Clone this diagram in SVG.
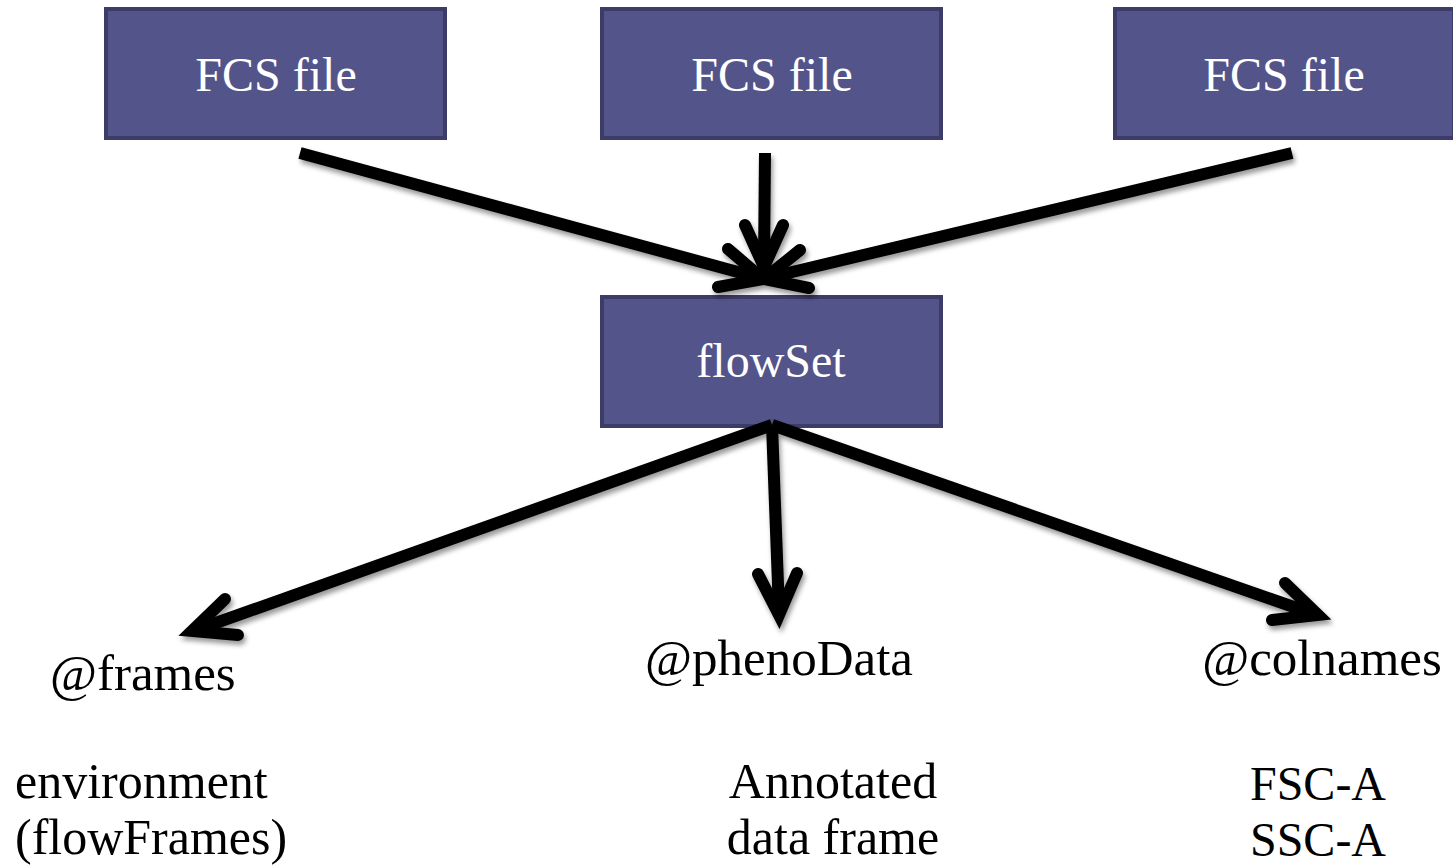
<svg xmlns="http://www.w3.org/2000/svg" width="1453" height="866" viewBox="0 0 1453 866">
<style>
.box{fill:#53548a;stroke:#3d3b68;stroke-width:4}
.bt{font-family:"Liberation Serif","DejaVu Serif",serif;font-size:48px;fill:#ffffff;text-anchor:middle}
.lb{font-family:"Liberation Serif","DejaVu Serif",serif;fill:#000000}
.shaft{fill:none;stroke:#000;stroke-width:12;stroke-linecap:butt}
.head{fill:none;stroke:#000;stroke-width:12;stroke-linecap:round;stroke-linejoin:miter}
</style>
<defs>
<filter id="sh" x="-10%" y="-10%" width="120%" height="130%">
<feDropShadow dx="2" dy="4" stdDeviation="2.5" flood-color="#000" flood-opacity="0.4"/>
</filter>
</defs>
<rect width="1453" height="866" fill="#ffffff"/>
<g id="fcs1"><rect class="box" x="106" y="9" width="339" height="129"/><text class="bt" x="276" y="91">FCS file</text></g>
<g id="fcs2"><rect class="box" x="602" y="9" width="339" height="129"/><text class="bt" x="772" y="91">FCS file</text></g>
<g id="fcs3"><rect class="box" x="1115" y="9" width="339" height="129"/><text class="bt" x="1284" y="91">FCS file</text></g>
<g id="flowset"><rect class="box" x="602" y="297" width="339" height="129"/><text class="bt" x="771" y="377">flowSet</text></g>
<g id="connectors" filter="url(#sh)">
<line class="shaft" x1="300" y1="153" x2="760" y2="278"/>
<polyline class="head" points="728,249 763,279 718,287"/>
<line class="shaft" x1="765" y1="153" x2="764" y2="264"/>
<polyline class="head" points="745,225 764,267 783,225"/>
<line class="shaft" x1="1292" y1="153" x2="767" y2="278"/>
<polyline class="head" points="800,250 764,279 809,288"/>
<line class="shaft" x1="772" y1="425" x2="196" y2="630"/>
<polyline class="head" points="225,599 192,631 238,635"/>
<line class="shaft" x1="772" y1="425" x2="779" y2="611"/>
<polyline class="head" points="758,574 779,615 797,573"/>
<line class="shaft" x1="772" y1="425" x2="1314" y2="614"/>
<polyline class="head" points="1285,583 1318,615 1272,620"/>
</g>
<g id="frames"><text class="lb" x="50" y="690" font-size="51">@frames</text></g>
<g id="phenodata"><text class="lb" x="779" y="675" font-size="51" text-anchor="middle">@phenoData</text></g>
<g id="colnames"><text class="lb" x="1322" y="675" font-size="51" text-anchor="middle">@colnames</text></g>
<g id="frames-desc"><text class="lb" x="15" y="798" font-size="50">environment</text><text class="lb" x="15" y="854" font-size="50">(flowFrames)</text></g>
<g id="phenodata-desc"><text class="lb" x="833" y="798" font-size="50" text-anchor="middle">Annotated</text><text class="lb" x="833" y="854" font-size="50" text-anchor="middle">data frame</text></g>
<g id="colnames-desc"><text class="lb" x="1318" y="800" font-size="48" text-anchor="middle">FSC-A</text><text class="lb" x="1318" y="856" font-size="48" text-anchor="middle">SSC-A</text></g>
</svg>
